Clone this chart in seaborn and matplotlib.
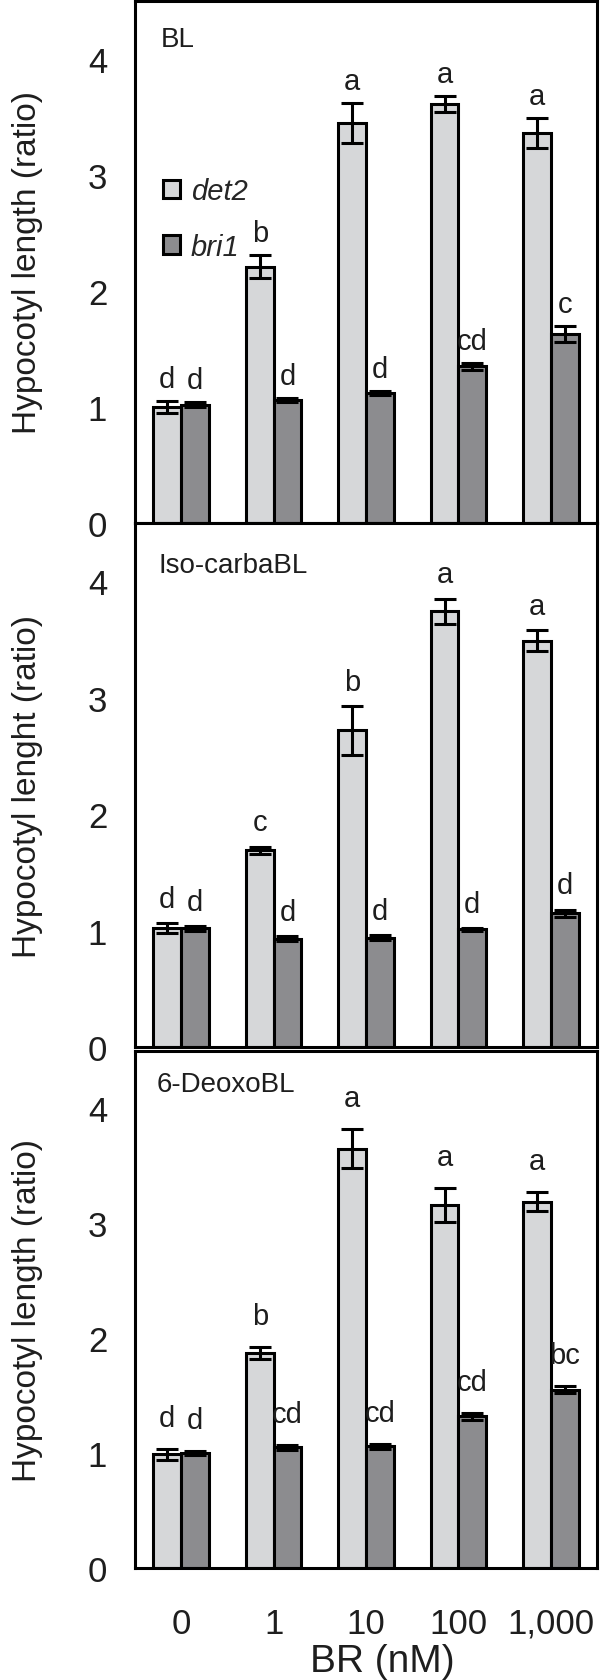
import numpy as np
import pandas as pd
import matplotlib
matplotlib.use("Agg")
import matplotlib.pyplot as plt
import seaborn as sns

sns.set_theme(style="white")
plt.rcParams['font.family'] = ['Liberation Sans', 'DejaVu Sans']

# ---------------- data ----------------
concentrations = ["0", "1", "10", "100", "1,000"]
genotypes = ["det2", "bri1"]
panel_titles = ["BL", "Iso-carbaBL", "6-DeoxoBL"]
ylabels = ["Hypocotyl length (ratio)", "Hypocotyl lenght (ratio)", "Hypocotyl length (ratio)"]
xlabel = "BR (nM)"
yticks = [0, 1, 2, 3, 4]

# BL
bl_det2 = [1.00, 2.21, 3.45, 3.61, 3.36]
bl_det2_err = [0.05, 0.10, 0.17, 0.07, 0.13]
bl_bri1 = [1.02, 1.06, 1.12, 1.35, 1.63]
bl_bri1_err = [0.02, 0.02, 0.02, 0.03, 0.07]
bl_det2_letters = ["d", "b", "a", "a", "a"]
bl_bri1_letters = ["d", "d", "d", "cd", "c"]

# Iso-carbaBL
iso_det2 = [1.02, 1.69, 2.72, 3.74, 3.49]
iso_det2_err = [0.045, 0.03, 0.21, 0.11, 0.09]
iso_bri1 = [1.02, 0.93, 0.94, 1.01, 1.15]
iso_bri1_err = [0.02, 0.02, 0.02, 0.01, 0.03]
iso_det2_letters = ["d", "c", "b", "a", "a"]
iso_bri1_letters = ["d", "d", "d", "d", "d"]

# 6-DeoxoBL
deo_det2 = [0.99, 1.87, 3.65, 3.16, 3.19]
deo_det2_err = [0.05, 0.05, 0.17, 0.15, 0.08]
deo_bri1 = [1.00, 1.05, 1.06, 1.32, 1.55]
deo_bri1_err = [0.02, 0.02, 0.02, 0.03, 0.03]
deo_det2_letters = ["d", "b", "a", "a", "a"]
deo_bri1_letters = ["d", "cd", "cd", "cd", "bc"]

panels = [
    (bl_det2, bl_det2_err, bl_bri1, bl_bri1_err, bl_det2_letters, bl_bri1_letters),
    (iso_det2, iso_det2_err, iso_bri1, iso_bri1_err, iso_det2_letters, iso_bri1_letters),
    (deo_det2, deo_det2_err, deo_bri1, deo_bri1_err, deo_det2_letters, deo_bri1_letters),
]

# ---------------- style ----------------
LIGHT = "#d6d7d9"
DARK = "#8b8c90"
LW = 2.2
TXT = "#1e1e1e"
letter_offsets = [0.12, 0.14, 0.20]

W, H = 606, 1681
fig = plt.figure(figsize=(W / 100, H / 100), dpi=100)

# axes boxes in pixels: (left, top, right, bottom)
boxes = [(135, 2, 597, 524), (135, 524, 597, 1048), (135, 1052, 597, 1569)]
title_pos = [(0.055, 0.927), (0.05, 0.92), (0.046, 0.936)]

for i, (box, pdata) in enumerate(zip(boxes, panels)):
    l, t, r, b = box
    ax = fig.add_axes([l / W, 1 - b / H, (r - l) / W, (b - t) / H])
    det2, det2_err, bri1, bri1_err, let_d, let_b = pdata
    df = pd.DataFrame({
        "conc": concentrations * 2,
        "genotype": [genotypes[0]] * 5 + [genotypes[1]] * 5,
        "value": det2 + bri1,
    })
    sns.barplot(data=df, x="conc", y="value", hue="genotype",
                order=concentrations, hue_order=genotypes,
                palette=[LIGHT, DARK], edgecolor="black", linewidth=LW,
                width=0.6, errorbar=None, ax=ax, legend=(i == 0), zorder=2)

    errs = [det2_err, bri1_err]
    letters = [let_d, let_b]
    for cont, err, labs in zip(ax.containers, errs, letters):
        xs = [p.get_x() + p.get_width() / 2 for p in cont.patches]
        hs = [p.get_height() for p in cont.patches]
        ax.errorbar(xs, hs, yerr=err, fmt="none", ecolor="black",
                    elinewidth=LW, capsize=8, capthick=LW, zorder=3)
        for x, h, e, s in zip(xs, hs, err, labs):
            ax.text(x, h + e + letter_offsets[i], s, ha="center", va="baseline",
                    fontsize=21, color=TXT)

    ax.set_ylim(0, 4.5)
    ax.set_xlim(-0.5, 4.5)
    ax.set_yticks(yticks)
    ax.set_yticklabels([str(v) for v in yticks], fontsize=25, color=TXT)
    ax.tick_params(axis="y", length=0, pad=20)
    ax.set_ylabel(ylabels[i], fontsize=24, color=TXT)
    ax.yaxis.set_label_coords(-0.2, 0.5)
    for sp in ax.spines.values():
        sp.set_linewidth(LW)
        sp.set_color("black")
    ax.text(title_pos[i][0], title_pos[i][1], panel_titles[i], transform=ax.transAxes,
            ha="left", va="center", fontsize=20, color=TXT)

    if i < 2:
        ax.set_xticks([])
        ax.set_xlabel("")
    else:
        ax.set_xticks(range(len(concentrations)))
        ax.set_xticklabels(concentrations, fontsize=25, color=TXT)
        ax.tick_params(axis="x", length=0, pad=28)
        ax.set_xlabel(xlabel, fontsize=28, color=TXT)
        ax.xaxis.set_label_coords(0.535, -0.145)

    if i == 0:
        ax.legend(loc="upper left", bbox_to_anchor=(0.035, 0.685), frameon=False,
                  handlelength=0.6, handleheight=0.6, labelspacing=0.95,
                  handletextpad=0.35, borderaxespad=0.0,
                  prop={"style": "italic", "size": 21})

fig.savefig("out.png", dpi=100)
